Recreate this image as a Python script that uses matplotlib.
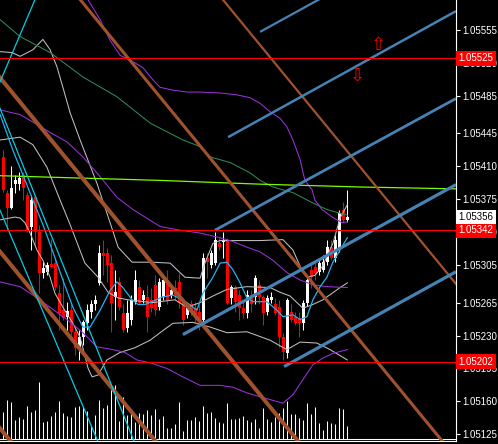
import numpy as np
import matplotlib.pyplot as plt
from matplotlib.transforms import blended_transform_factory

plt.rcParams['font.family'] = ['Liberation Sans', 'DejaVu Sans']

# candles (M5)
opens = [
    1.05420, 1.05382, 1.05366, 1.05391, 1.05391, 1.05401, 1.05380, 1.05345, 1.05377, 1.05340,
    1.05297, 1.05298, 1.05306, 1.05307, 1.05275, 1.05257, 1.05250, 1.05257, 1.05234, 1.05217,
    1.05228, 1.05243, 1.05255, 1.05263, 1.05286, 1.05318, 1.05318, 1.05307, 1.05271, 1.05287,
    1.05254, 1.05238, 1.05247, 1.05266, 1.05282, 1.05268, 1.05271, 1.05268, 1.05284, 1.05260,
    1.05271, 1.05289, 1.05273, 1.05281, 1.05287, 1.05266, 1.05252, 1.05263, 1.05259, 1.05255,
    1.05247, 1.05312, 1.05305, 1.05307, 1.05328, 1.05330, 1.05332, 1.05270, 1.05282, 1.05273,
    1.05259, 1.05254, 1.05273, 1.05271, 1.05284, 1.05271, 1.05255, 1.05268, 1.05263, 1.05260,
    1.05228, 1.05211, 1.05255, 1.05250, 1.05249, 1.05243, 1.05265, 1.05300, 1.05303, 1.05298,
    1.05300, 1.05308, 1.05324, 1.05312, 1.05321, 1.05364, 1.05353]
highs = [
    1.05427, 1.05385, 1.05410, 1.05401, 1.05404, 1.05404, 1.05383, 1.05380, 1.05380, 1.05348,
    1.05308, 1.05308, 1.05333, 1.05312, 1.05284, 1.05291, 1.05266, 1.05263, 1.05241, 1.05236,
    1.05247, 1.05263, 1.05268, 1.05273, 1.05326, 1.05332, 1.05323, 1.05316, 1.05300, 1.05292,
    1.05263, 1.05268, 1.05273, 1.05300, 1.05289, 1.05278, 1.05284, 1.05281, 1.05294, 1.05291,
    1.05294, 1.05300, 1.05284, 1.05289, 1.05297, 1.05270, 1.05263, 1.05268, 1.05266, 1.05263,
    1.05318, 1.05318, 1.05321, 1.05340, 1.05334, 1.05340, 1.05334, 1.05284, 1.05284, 1.05278,
    1.05268, 1.05278, 1.05278, 1.05294, 1.05289, 1.05273, 1.05273, 1.05276, 1.05270, 1.05268,
    1.05233, 1.05270, 1.05263, 1.05255, 1.05255, 1.05268, 1.05291, 1.05308, 1.05308, 1.05312,
    1.05316, 1.05332, 1.05332, 1.05337, 1.05364, 1.05372, 1.05385]
lows = [
    1.05383, 1.05342, 1.05365, 1.05382, 1.05385, 1.05374, 1.05340, 1.05321, 1.05326, 1.05275,
    1.05291, 1.05294, 1.05302, 1.05278, 1.05236, 1.05247, 1.05236, 1.05231, 1.05209, 1.05204,
    1.05220, 1.05236, 1.05249, 1.05257, 1.05284, 1.05294, 1.05287, 1.05234, 1.05247, 1.05257,
    1.05234, 1.05234, 1.05241, 1.05263, 1.05263, 1.05265, 1.05234, 1.05255, 1.05252, 1.05257,
    1.05268, 1.05263, 1.05270, 1.05268, 1.05259, 1.05241, 1.05249, 1.05252, 1.05244, 1.05236,
    1.05244, 1.05291, 1.05302, 1.05305, 1.05321, 1.05312, 1.05263, 1.05263, 1.05255, 1.05247,
    1.05249, 1.05249, 1.05255, 1.05263, 1.05263, 1.05241, 1.05252, 1.05265, 1.05252, 1.05218,
    1.05204, 1.05206, 1.05244, 1.05241, 1.05228, 1.05236, 1.05261, 1.05281, 1.05289, 1.05294,
    1.05298, 1.05305, 1.05310, 1.05308, 1.05319, 1.05351, 1.05351]
closes = [
    1.05385, 1.05366, 1.05387, 1.05395, 1.05398, 1.05387, 1.05342, 1.05374, 1.05340, 1.05297,
    1.05302, 1.05305, 1.05303, 1.05282, 1.05254, 1.05249, 1.05256, 1.05234, 1.05217, 1.05228,
    1.05244, 1.05257, 1.05263, 1.05268, 1.05318, 1.05315, 1.05305, 1.05265, 1.05276, 1.05260,
    1.05236, 1.05254, 1.05268, 1.05289, 1.05265, 1.05273, 1.05250, 1.05259, 1.05257, 1.05287,
    1.05289, 1.05268, 1.05278, 1.05273, 1.05265, 1.05247, 1.05259, 1.05255, 1.05249, 1.05247,
    1.05312, 1.05308, 1.05318, 1.05332, 1.05324, 1.05332, 1.05265, 1.05282, 1.05266, 1.05259,
    1.05254, 1.05273, 1.05263, 1.05291, 1.05271, 1.05254, 1.05270, 1.05271, 1.05254, 1.05228,
    1.05212, 1.05268, 1.05247, 1.05243, 1.05243, 1.05265, 1.05289, 1.05292, 1.05297, 1.05307,
    1.05308, 1.05324, 1.05312, 1.05332, 1.05360, 1.05353, 1.05356]
volumes = [
    267, 387, 370, 190, 220, 200, 330, 270, 290, 570,
    170, 180, 230, 270, 380, 260, 230, 217, 320, 330,
    320, 280, 140, 240, 390, 310, 340, 500, 540, 180,
    420, 240, 300, 170, 260, 250, 290, 240, 300, 200,
    230, 110, 110, 150, 370, 80, 190, 190, 220, 180,
    330, 260, 270, 210, 170, 160, 360, 200, 200, 210,
    230, 190, 170, 200, 110, 310, 200, 170, 220, 260,
    310, 380, 250, 250, 210, 190, 360, 250, 320, 160,
    90, 180, 160, 150, 310, 300, 130]

# bollinger (silver), sampled at bar positions
bb_up_bar = [-0.8, 2.2, 4.2, 7.4, 9.9, 11.7, 13.4, 14.9, 16.7, 19.2, 23.4, 26.7, 28.7, 32.2, 37.2, 41.7,
             45.4, 49.2, 50.4, 52.4, 54.2, 64.2, 69.9, 72.4, 74.9, 75.9, 77.9, 79.7, 82.4, 84.2, 86]
bb_up = [1.05532, 1.05531, 1.05527, 1.05534, 1.05545, 1.05534, 1.05516, 1.05494, 1.05467, 1.05438,
         1.05392, 1.05350, 1.05324, 1.05308, 1.05308, 1.05307, 1.05292, 1.05291, 1.05307, 1.05328,
         1.05331, 1.05331, 1.05332, 1.05321, 1.05297, 1.05292, 1.05294, 1.05303, 1.05328, 1.05355, 1.05369]
bb_mid_bar = [-0.8, 4.2, 7.4, 10.9, 14.2, 16.7, 20.4, 23.7, 26.2, 28.7, 31.2, 37.2, 42.9, 45.9, 49.2,
              52.4, 55.9, 60.9, 66.7, 69.2, 71.7, 74.9, 77.4, 79.9, 84.2, 86]
bb_mid = [1.05438, 1.05441, 1.05433, 1.05409, 1.05374, 1.05348, 1.05307, 1.05292, 1.05276, 1.05270,
          1.05268, 1.05265, 1.05268, 1.05260, 1.05265, 1.05272, 1.05279, 1.05282, 1.05281, 1.05276,
          1.05272, 1.05259, 1.05263, 1.05268, 1.05281, 1.05286]
bb_lo_bar = [-0.8, 2.9, 4.2, 5.4, 6.7, 8.4, 9.9, 11.7, 12.9, 14.9, 17.4, 19.2, 20.2, 21.2, 22.2, 23.7,
             24.9, 25.9, 29.2, 32.9, 36.7, 39.2, 42.4, 47.4, 51.7, 55.9, 60.9, 66.7, 70.9, 74.2, 78.4, 81.7, 86]
bb_lo = [1.05353, 1.05356, 1.05355, 1.05350, 1.05339, 1.05321, 1.05310, 1.05292, 1.05275, 1.05260,
         1.05243, 1.05228, 1.05212, 1.05195, 1.05186, 1.05188, 1.05197, 1.05204, 1.05212, 1.05217,
         1.05225, 1.05233, 1.05243, 1.05244, 1.05239, 1.05233, 1.05234, 1.05225, 1.05215, 1.05223,
         1.05222, 1.05215, 1.05204]

# slow bollinger (purple)
pb_up_bar = [18.2, 21.2, 24.2, 26.7, 29.2, 31.7, 34.9, 37.4, 39.2, 42.4, 45.9, 49.2, 54.2, 58.4,
             61.7, 64.2, 66.7, 69.2, 70.9, 72.4, 74.2, 75.4, 77.2, 77.9, 79.7, 82.2, 84.7, 86]
pb_up = [1.05608, 1.05587, 1.05566, 1.05544, 1.05528, 1.05523, 1.05515, 1.05502, 1.05494, 1.05491,
         1.05489, 1.05489, 1.05488, 1.05486, 1.05483, 1.05477, 1.05468, 1.05461, 1.05452, 1.05438,
         1.05417, 1.05395, 1.05385, 1.05374, 1.05364, 1.05356, 1.05350, 1.05351]
pb_mid_bar = [-0.8, 4.2, 7.4, 11.7, 15.9, 19.9, 24.2, 28.4, 32.4, 39.2, 44.2, 49.2, 54.2, 57.4,
              60.9, 64.2, 67.4, 70.9, 74.2, 77.4, 80.9, 86]
pb_mid = [1.05470, 1.05465, 1.05457, 1.05446, 1.05436, 1.05420, 1.05399, 1.05377, 1.05364, 1.05346,
          1.05342, 1.05339, 1.05334, 1.05330, 1.05324, 1.05319, 1.05310, 1.05297, 1.05289, 1.05284,
          1.05282, 1.05281]
pb_lo_bar = [-0.8, 4.2, 7.4, 11.7, 15.9, 19.9, 23.4, 27.4, 30.4, 33.4, 36.7, 40.9, 44.9, 49.2,
             54.2, 57.4, 60.9, 64.9, 69.9, 72.4, 74.9, 77.4, 79.9, 82.4, 86]
pb_lo = [1.05287, 1.05282, 1.05273, 1.05260, 1.05247, 1.05233, 1.05218, 1.05215, 1.05212, 1.05204,
         1.05201, 1.05195, 1.05186, 1.05177, 1.05177, 1.05175, 1.05169, 1.05164, 1.05158, 1.05167,
         1.05183, 1.05199, 1.05206, 1.05211, 1.05215]

# fast MA (deep sky blue)
ma_bar = [-0.8, 2.4, 4.9, 7.4, 9.9, 12.4, 14.9, 17.4, 19.9, 21.7, 24.2, 26.7, 28.4, 29.7, 32.2, 33.7,
          35.4, 37.2, 39.7, 42.4, 45.9, 48.4, 49.9, 52.4, 54.2, 55.9, 57.4, 59.2, 60.9, 62.4, 65.9,
          68.4, 69.9, 72.4, 74.2, 75.9, 77.4, 79.2, 80.9, 82.4, 84.2, 86]
ma = [1.05465, 1.05427, 1.05401, 1.05374, 1.05348, 1.05319, 1.05289, 1.05260, 1.05239, 1.05239,
      1.05257, 1.05278, 1.05287, 1.05282, 1.05268, 1.05263, 1.05263, 1.05266, 1.05271, 1.05273,
      1.05265, 1.05257, 1.05275, 1.05292, 1.05307, 1.05308, 1.05300, 1.05286, 1.05270, 1.05266,
      1.05266, 1.05257, 1.05250, 1.05252, 1.05247, 1.05250, 1.05268, 1.05282, 1.05292, 1.05308,
      1.05321, 1.05334]

# slow MA (sea green) and higher-TF MA (lawn green)
green_bar = [-0.8, 4.2, 11.7, 19.9, 28.4, 36.7, 44.9, 49.2, 51.7, 56.7, 61.7, 64.2, 67.4, 72.4, 77.4, 80.9, 86]
green = [1.05566, 1.05548, 1.05531, 1.05505, 1.05484, 1.05456, 1.05438, 1.05431, 1.05420, 1.05414,
         1.05403, 1.05395, 1.05388, 1.05382, 1.05371, 1.05364, 1.05358]
lime_bar = [-0.8, 39.2, 64.2, 89.2, 113.2]
lime = [1.05400, 1.05395, 1.05391, 1.05388, 1.05386]

# trendline objects: price at bar 0 and bar 80
brown_at0 = [1.05127, 1.05315, 1.05500, 1.05687, 1.05872]
brown_at80 = [1.04712, 1.04900, 1.05085, 1.05272, 1.05457]
brown_lw = [2.9, 2.9, 2.9, 2.2, 1.6]
cyan_p1 = [(0, 1.05463), (0, 1.05355), (0, 1.05508)]
cyan_p2 = [(30, 1.05146), (20, 1.05154), (5, 1.05558)]
# rays: start bar/price, and price at bar 80
ray_bar = [70.2, 44.9, 52.9, 56.2, 64.2]
ray_start = [1.05197, 1.05231, 1.05342, 1.05441, 1.05553]
ray_at80 = [1.05220, 1.05313, 1.05405, 1.05497, 1.05590]
ray_lw = [2.3, 2.3, 2.0, 1.8, 1.6]

red_levels = [1.05525, 1.05342, 1.05202]
price_ticks = [1.05555, 1.05520, 1.05485, 1.05445, 1.05410, 1.05375, 1.05340,
               1.05305, 1.05265, 1.05230, 1.05195, 1.05160, 1.05125]

xmin, xmax = -0.825, 113.175
ymin, ymax = 1.051178, 1.055869

fig = plt.figure(figsize=(4.98, 4.44), dpi=100, facecolor='black')
rect = [0, 3 / 444, 456 / 498, 441 / 444]
axv = fig.add_axes(rect)
ax = fig.add_axes(rect, facecolor='none')

bars = np.arange(len(closes))

# volume at the bottom
axv.vlines(bars, 0, volumes, color='white', lw=0.75)
axv.axhline(0, color='white', lw=0.75)
axv.set_xlim(xmin, xmax)
axv.set_ylim(-20, 4390)
axv.axis('off')

# candles
o = np.array(opens)
c = np.array(closes)
col = np.where(c >= o, 'white', '#ff0000')
ax.vlines(bars, lows, highs, colors=col, lw=0.75, zorder=2)
body = np.maximum(np.abs(c - o), 0.000011)
ax.bar(bars, body, bottom=np.minimum(o, c), width=0.75, color=col, lw=0, zorder=2)

# indicators
ax.plot(bb_up_bar, bb_up, color='#c0c0c0', lw=0.75, zorder=3)
ax.plot(bb_mid_bar, bb_mid, color='#c0c0c0', lw=0.75, zorder=3)
ax.plot(bb_lo_bar, bb_lo, color='#c0c0c0', lw=0.75, zorder=3)
ax.plot(pb_up_bar, pb_up, color='#9b30d9', lw=0.75, zorder=3)
ax.plot(pb_mid_bar, pb_mid, color='#9b30d9', lw=0.75, zorder=3)
ax.plot(pb_lo_bar, pb_lo, color='#9b30d9', lw=0.75, zorder=3)
ax.plot(green_bar, green, color='#2e8b57', lw=0.75, zorder=3)
ax.plot(lime_bar, lime, color='#7cfc00', lw=0.9, zorder=3)
ax.plot(ma_bar, ma, color='#1eb4f0', lw=0.9, zorder=3)

# objects
for p0, p80, lw in zip(brown_at0, brown_at80, brown_lw):
    ax.axline((0, p0), (80, p80), color='#a0522d', lw=lw, zorder=4)
for a, b in zip(cyan_p1, cyan_p2):
    ax.axline(a, b, color='#00cde6', lw=0.9, zorder=4)
for b0, p0, p80, lw in zip(ray_bar, ray_start, ray_at80, ray_lw):
    slope = (p80 - p0) / (80 - b0)
    ax.plot([b0, xmax], [p0, p0 + slope * (xmax - b0)], color='#4682b4', lw=lw,
            solid_capstyle='butt', zorder=4)
for lvl in red_levels:
    ax.axhline(lvl, color='#ff0000', lw=0.8, zorder=4)

ax.text(93.9, 1.05539, '\u21e7', color='#ff0000', fontsize=13, family='DejaVu Sans',
        ha='center', va='center', zorder=5)
ax.text(88.5, 1.05507, '\u21e9', color='#ff0000', fontsize=13, family='DejaVu Sans',
        ha='center', va='center', zorder=5)

ax.set_xlim(xmin, xmax)
ax.set_ylim(ymin, ymax)
ax.set_xticks([])
ax.yaxis.tick_right()
ax.set_yticks(price_ticks)
ax.set_yticklabels([f'{t:.5f}' for t in price_ticks])
ax.tick_params(axis='y', colors='white', length=3, width=0.8, pad=1.5, labelsize=7)
ax.spines['top'].set_visible(False)
ax.spines['left'].set_visible(False)
ax.spines['right'].set_color('white')
ax.spines['bottom'].set_color('white')

# price labels on the scale
tr = blended_transform_factory(ax.transAxes, ax.transData)
for lvl in red_levels:
    ax.text(1.006, lvl, f'{lvl:.5f}', transform=tr, ha='left', va='center', color='white',
            fontsize=7, clip_on=False, zorder=10,
            bbox=dict(boxstyle='square,pad=0.25', fc='#ff0000', ec='none'))
ax.text(1.006, closes[-1], f'{closes[-1]:.5f}', transform=tr, ha='left', va='center',
        color='black', fontsize=7, clip_on=False, zorder=10,
        bbox=dict(boxstyle='square,pad=0.25', fc='white', ec='none'))

fig.savefig('out.png', dpi=100, facecolor='black')
